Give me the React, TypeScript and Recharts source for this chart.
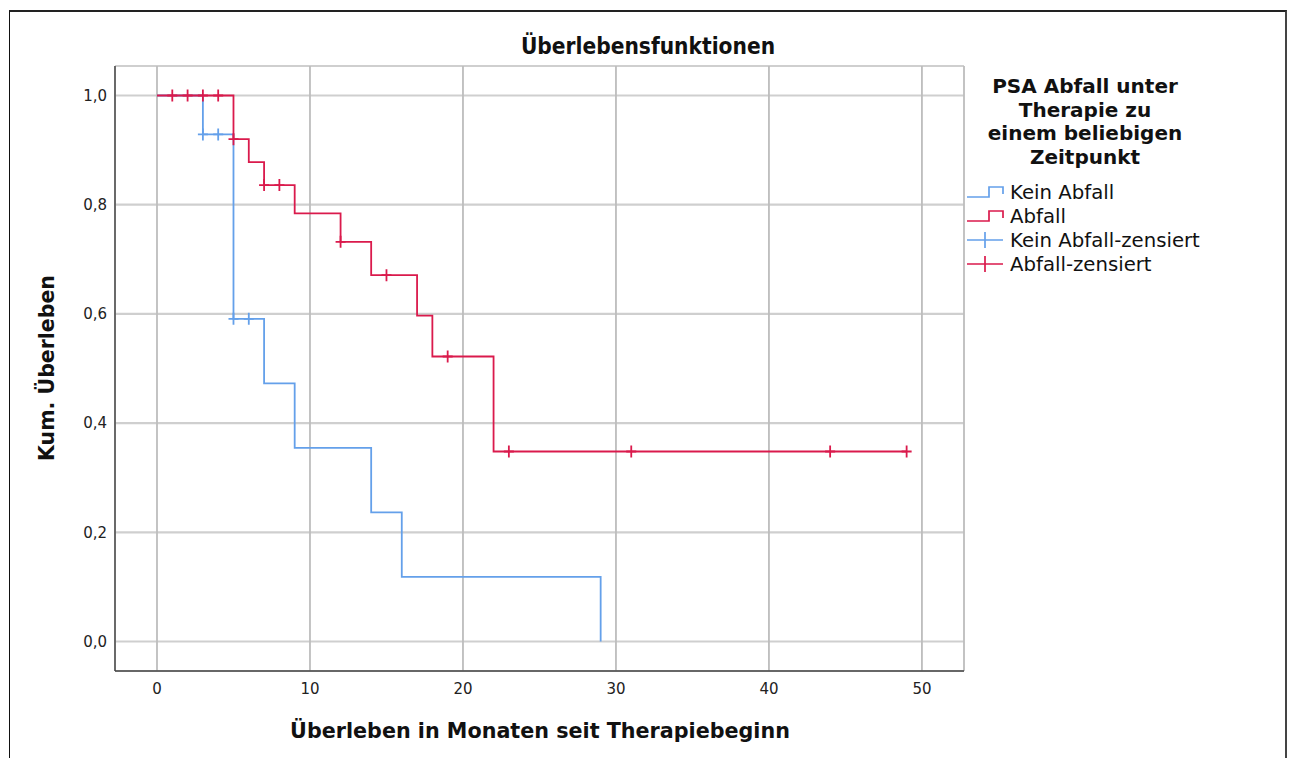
import React from "react";
import {
  ComposedChart,
  Line,
  Scatter,
  XAxis,
  YAxis,
  CartesianGrid,
} from "recharts";

// Kaplan-Meier step points (time in months, cumulative survival)
const keinAbfallTimes = [0, 3, 5, 7, 9, 14, 16, 29];
const keinAbfallSurv = [1.0, 0.9286, 0.5909, 0.4727, 0.3545, 0.2364, 0.1182, 0.0];

const abfallTimes = [0, 5, 6, 7, 9, 12, 14, 17, 18, 22, 49];
const abfallSurv = [1.0, 0.92, 0.878, 0.836, 0.784, 0.732, 0.671, 0.597, 0.522, 0.348, 0.348];

// Censored observations
const keinAbfallCensTimes = [3, 4, 5, 6];
const keinAbfallCensSurv = [0.9286, 0.9286, 0.5909, 0.5909];

const abfallCensTimes = [1, 2, 3, 4, 5, 7, 8, 12, 15, 19, 23, 31, 44, 49];
const abfallCensSurv = [1.0, 1.0, 1.0, 1.0, 0.92, 0.836, 0.836, 0.732, 0.671, 0.522, 0.348, 0.348, 0.348, 0.348];

const xTicks = [0, 10, 20, 30, 40, 50];
const yTicks = [0, 0.2, 0.4, 0.6, 0.8, 1.0];

const legendTitleLines = ["PSA Abfall unter", "Therapie zu", "einem beliebigen", "Zeitpunkt"];
const legendLabels = ["Kein Abfall", "Abfall", "Kein Abfall-zensiert", "Abfall-zensiert"];

const BLUE = "#64a0ea";
const RED = "#da1a4c";

const zip = (t: number[], s: number[]) => t.map((v, i) => ({ t: v, s: s[i] }));

const keinData = zip(keinAbfallTimes, keinAbfallSurv);
const abfallData = zip(abfallTimes, abfallSurv);
const keinCens = zip(keinAbfallCensTimes, keinAbfallCensSurv);
const abfallCens = zip(abfallCensTimes, abfallCensSurv);

const plus = (color: string) => (props: any) => {
  const { cx, cy } = props;
  if (cx == null || cy == null) return <g />;
  return (
    <path
      d={`M${cx - 5},${cy}H${cx + 5}M${cx},${cy - 6}V${cy + 6}`}
      stroke={color}
      strokeWidth={1.8}
      fill="none"
    />
  );
};

const SANS = "'DejaVu Sans', Verdana, sans-serif";
const COND = "'DejaVu Sans Condensed', 'Liberation Sans Narrow', 'DejaVu Sans', sans-serif";

const LegendIcon = ({ kind, color }: { kind: "step" | "cens"; color: string }) => (
  <svg width={40} height={20} style={{ display: "block" }}>
    {kind === "step" ? (
      <path d="M1,15 H23 V5 H37 V12" stroke={color} strokeWidth={1.7} fill="none" />
    ) : (
      <path d="M1,10 H37 M19,2 V18" stroke={color} strokeWidth={1.7} fill="none" />
    )}
  </svg>
);

export default function App() {
  return (
    <div
      style={{
        position: "absolute",
        left: 0,
        top: 0,
        width: 1290,
        height: 758,
        overflow: "hidden",
        background: "#fff",
      }}
    >
      <div
        style={{
          position: "absolute",
          left: 9,
          top: 10,
          width: 1275,
          height: 800,
          borderTop: "2px solid #222",
          borderLeft: "1px solid #111",
          borderRight: "2px solid #444",
        }}
      />
      <div style={{ position: "absolute", left: 0, top: 0 }}>
        <ComposedChart
          width={1290}
          height={758}
          margin={{ top: 66, right: 326, bottom: 0, left: 0 }}
        >
          <CartesianGrid horizontal={true} vertical={false} stroke="#cfcfcf" strokeWidth={2.2} />
          <CartesianGrid horizontal={false} vertical={true} stroke="#bdbdbd" strokeWidth={1.8} />
          <XAxis
            type="number"
            dataKey="t"
            domain={[-2.745, 52.75]}
            ticks={xTicks}
            allowDataOverflow
            height={87}
            tickLine={false}
            tickSize={0}
            tickMargin={12}
            axisLine={{ stroke: "#444", strokeWidth: 1.4 }}
            tick={{ fill: "#222", fontSize: 15, fontFamily: SANS }}
          />
          <YAxis
            type="number"
            dataKey="s"
            domain={[-0.054, 1.054]}
            ticks={yTicks}
            allowDataOverflow
            width={115}
            tickLine={false}
            tickSize={0}
            tickMargin={8}
            axisLine={{ stroke: "#444", strokeWidth: 1.4 }}
            tick={{ fill: "#222", fontSize: 15, fontFamily: SANS }}
            tickFormatter={(v: number) => v.toFixed(1).replace(".", ",")}
          />
          <Line
            data={keinData}
            dataKey="s"
            type="stepAfter"
            stroke={BLUE}
            strokeWidth={1.8}
            dot={false}
            activeDot={false}
            isAnimationActive={false}
          />
          <Line
            data={abfallData}
            dataKey="s"
            type="stepAfter"
            stroke={RED}
            strokeWidth={1.8}
            dot={false}
            activeDot={false}
            isAnimationActive={false}
          />
          <Scatter data={keinCens} dataKey="s" shape={plus(BLUE)} isAnimationActive={false} />
          <Scatter data={abfallCens} dataKey="s" shape={plus(RED)} isAnimationActive={false} />
        </ComposedChart>
      </div>

      <div
        style={{
          position: "absolute",
          left: 448,
          width: 400,
          top: 31,
          textAlign: "center",
          fontFamily: COND,
          fontWeight: "bold",
          fontSize: 22.5,
          color: "#111",
          lineHeight: "30px",
        }}
      >
        Überlebensfunktionen
      </div>

      <div
        style={{
          position: "absolute",
          left: 240,
          width: 600,
          top: 716,
          textAlign: "center",
          fontFamily: SANS,
          fontWeight: "bold",
          fontSize: 20.7,
          color: "#111",
          lineHeight: "30px",
        }}
      >
        Überleben in Monaten seit Therapiebeginn
      </div>

      <div
        style={{
          position: "absolute",
          left: 47 - 150,
          top: 368 - 15,
          width: 300,
          height: 30,
          lineHeight: "30px",
          textAlign: "center",
          transform: "rotate(-90deg)",
          fontFamily: SANS,
          fontWeight: "bold",
          fontSize: 20.5,
          color: "#111",
        }}
      >
        Kum. Überleben
      </div>

      <div
        style={{
          position: "absolute",
          left: 965,
          width: 240,
          top: 75,
          textAlign: "center",
          fontFamily: SANS,
          fontWeight: "bold",
          fontSize: 20,
          lineHeight: "23.6px",
          color: "#111",
        }}
      >
        {legendTitleLines.map((l) => (
          <div key={l}>{l}</div>
        ))}
      </div>

      <div style={{ position: "absolute", left: 966, top: 180 }}>
        {legendLabels.map((l, i) => (
          <div
            key={l}
            style={{ display: "flex", alignItems: "center", height: 24 }}
          >
            <LegendIcon kind={i < 2 ? "step" : "cens"} color={i % 2 === 0 ? BLUE : RED} />
            <span
              style={{
                marginLeft: 4,
                fontFamily: SANS,
                fontSize: 19.7,
                color: "#111",
                whiteSpace: "nowrap",
              }}
            >
              {l}
            </span>
          </div>
        ))}
      </div>
    </div>
  );
}
